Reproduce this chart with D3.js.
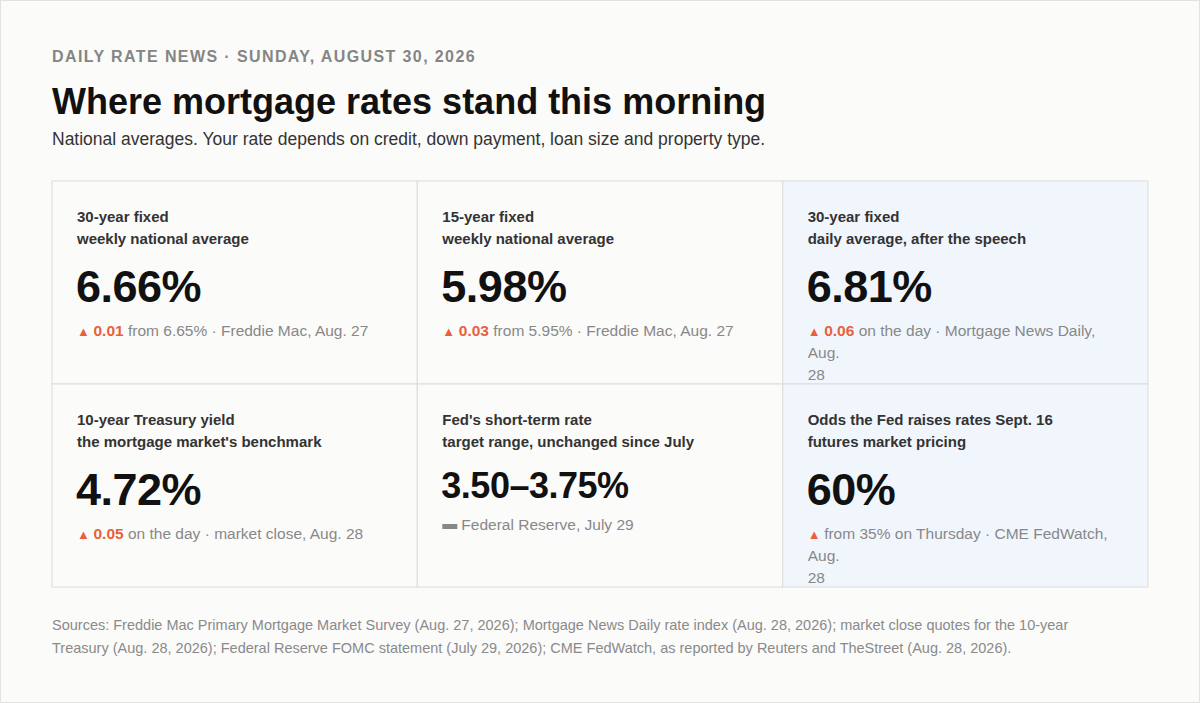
<!DOCTYPE html>
<html><head><meta charset="utf-8">
<script src="https://cdn.jsdelivr.net/npm/d3@7"></script>
<style>
body{margin:0;background:#fbfbfa;font-family:"Liberation Sans",Arial,sans-serif;}
svg{display:block}
</style></head>
<body><svg id="chart" width="1200" height="703"></svg>
<script>
// card content
var labels1 = ["30-year fixed", "15-year fixed", "30-year fixed", "10-year Treasury yield", "Fed's short-term rate", "Odds the Fed raises rates Sept. 16"];
var labels2 = ["weekly national average", "weekly national average", "daily average, after the speech", "the mortgage market's benchmark", "target range, unchanged since July", "futures market pricing"];
var values = ["6.66%", "5.98%", "6.81%", "4.72%", "3.50\u20133.75%", "60%"];
var changes = ["0.01", "0.03", "0.06", "0.05", "", ""];
var directions = ["up", "up", "up", "up", "flat", "up"];
var notes = ["from 6.65% \u00b7 Freddie Mac, Aug. 27", "from 5.95% \u00b7 Freddie Mac, Aug. 27",
  "on the day \u00b7 Mortgage News Daily, Aug. 28", "on the day \u00b7 market close, Aug. 28",
  "Federal Reserve, July 29", "from 35% on Thursday \u00b7 CME FedWatch, Aug. 28"];
var highlighted = [false, false, true, false, false, true];
var smallValue = [false, false, false, false, true, false];

var svg = d3.select("#chart");
svg.append("rect").attr("x", 0.5).attr("y", 0.5).attr("width", 1199).attr("height", 702)
  .attr("fill", "#fbfbfa").attr("stroke", "#e2e2e0");

svg.append("text").attr("x", 52).attr("y", 62).text("DAILY RATE NEWS \u00b7 SUNDAY, AUGUST 30, 2026")
  .attr("font-size", 16).attr("font-weight", "bold").attr("fill", "#858585").attr("letter-spacing", 1.4);
svg.append("text").attr("x", 52).attr("y", 114).text("Where mortgage rates stand this morning")
  .attr("font-size", 36).attr("font-weight", "bold").attr("fill", "#111");
svg.append("text").attr("x", 52).attr("y", 145).text("National averages. Your rate depends on credit, down payment, loan size and property type.")
  .attr("font-size", 17.5).attr("fill", "#333");

var x = d3.scaleBand().domain([0, 1, 2]).range([52, 1148]);
var y = d3.scaleBand().domain([0, 1]).range([181, 587]);

var cells = svg.selectAll("g.cell").data(values).enter().append("g")
  .attr("transform", (d, i) => `translate(${x(i % 3)},${y(Math.floor(i / 3))})`);

cells.append("rect").attr("width", x.bandwidth()).attr("height", y.bandwidth())
  .attr("fill", (d, i) => highlighted[i] ? "#f1f6fd" : "#fbfbfa")
  .attr("stroke", "#dcdcda");

cells.append("text").attr("x", 25).attr("y", 41).text((d, i) => labels1[i])
  .attr("font-size", 15).attr("font-weight", "bold").attr("fill", "#333");
cells.append("text").attr("x", 25).attr("y", 63).text((d, i) => labels2[i])
  .attr("font-size", 15).attr("font-weight", "bold").attr("fill", "#333");
cells.append("text").attr("x", 24).attr("y", (d, i) => smallValue[i] ? 114 : 121).text(d => d)
  .attr("font-size", (d, i) => smallValue[i] ? 36 : 45).attr("font-weight", "bold")
  .attr("fill", "#111").attr("letter-spacing", -0.5);

// change notes, wrapped to card width
cells.each(function (d, i) {
  var g = d3.select(this);
  var y0 = smallValue[i] ? 146 : 155;
  var t = g.append("text").attr("x", 25).attr("y", y0).attr("font-size", 15.5).attr("fill", "#888");
  var words = notes[i].split(" ");
  var line = t.append("tspan").attr("x", 25);
  if (directions[i] == "up") {
    line.append("tspan").attr("fill", "#e8603c").attr("font-size", 13).text("\u25B2 ");
    if (changes[i]) line.append("tspan").attr("fill", "#e8603c").attr("font-weight", "bold").text(changes[i] + " ");
  } else {
    g.append("rect").attr("x", 25).attr("y", y0 - 6).attr("width", 15).attr("height", 5).attr("fill", "#888");
    line.attr("x", 44);
  }
  var rest = line.append("tspan").text("");
  var cur = "";
  words.forEach(w => {
    var test = cur ? cur + " " + w : w;
    rest.text(test);
    if (t.node().getComputedTextLength() > 310 && cur) {
      rest.text(cur);
      rest = t.append("tspan").attr("x", 25).attr("dy", 22).text(w);
      cur = w;
    } else cur = test;
  });
});

var sources = ["Sources: Freddie Mac Primary Mortgage Market Survey (Aug. 27, 2026); Mortgage News Daily rate index (Aug. 28, 2026); market close quotes for the 10-year",
  "Treasury (Aug. 28, 2026); Federal Reserve FOMC statement (July 29, 2026); CME FedWatch, as reported by Reuters and TheStreet (Aug. 28, 2026)."];
svg.selectAll("text.src").data(sources).enter().append("text").attr("class", "src")
  .attr("x", 52).attr("y", (d, i) => 630 + i * 23).text(d => d)
  .attr("font-size", 14.5).attr("fill", "#8a8a8a");
</script></body></html>
